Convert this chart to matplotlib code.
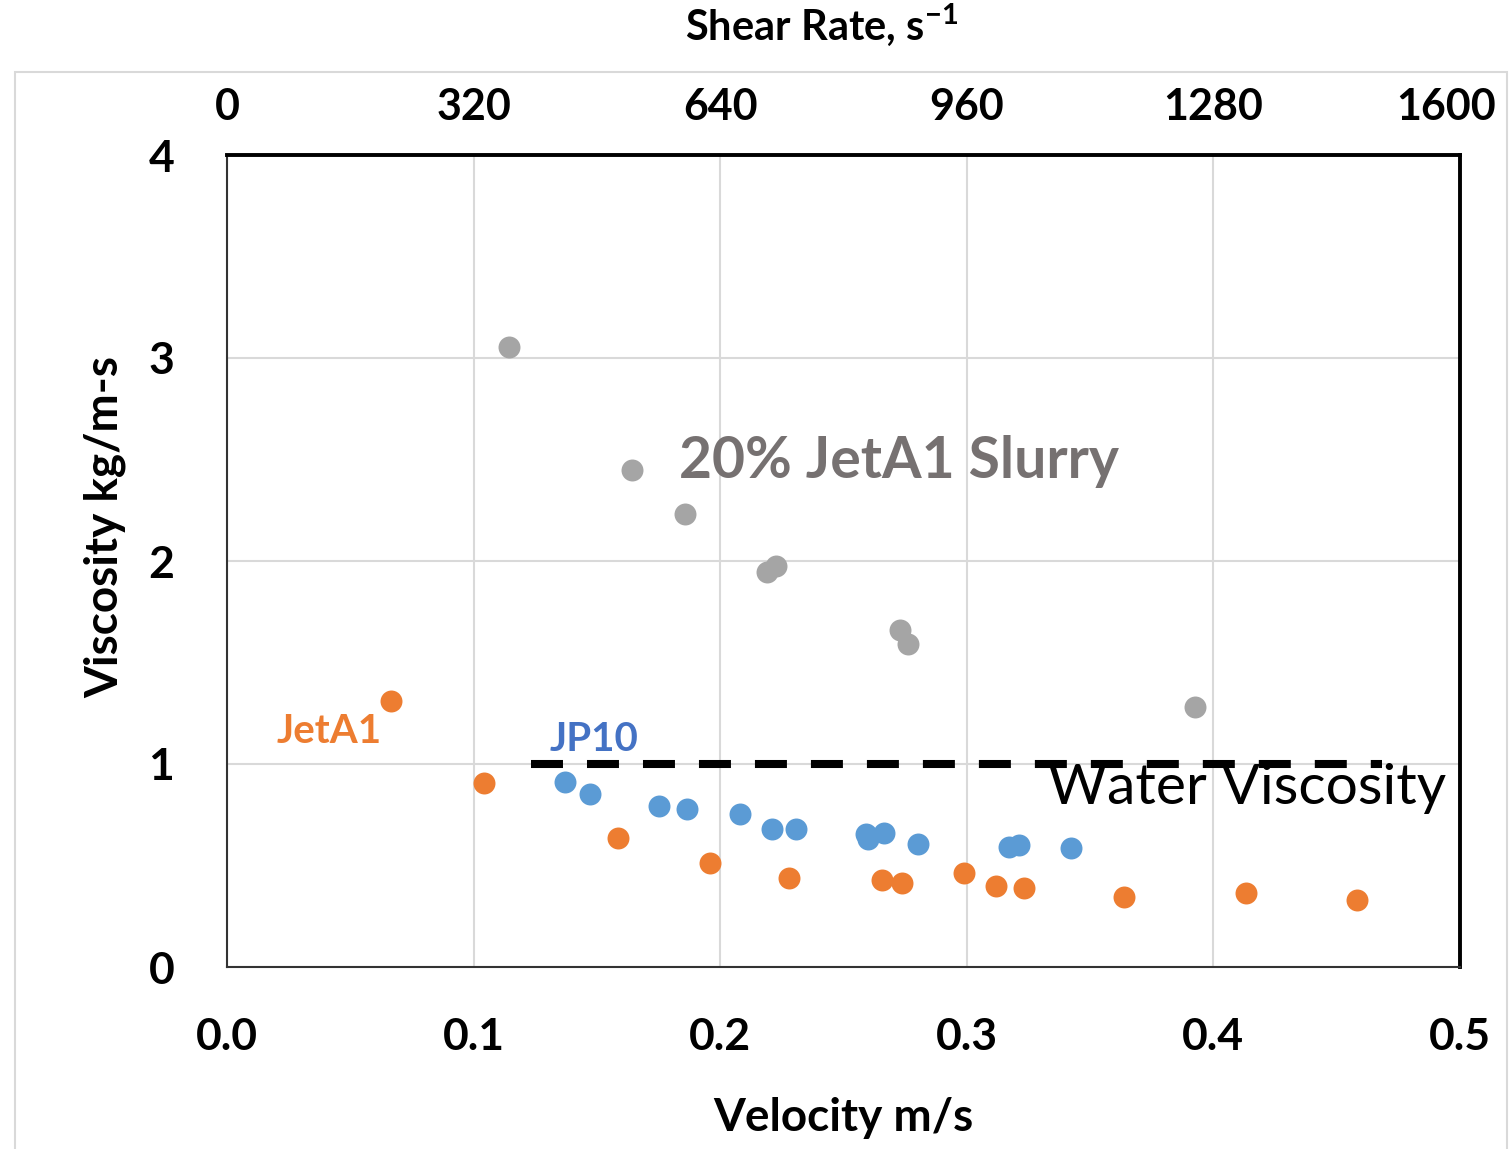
import matplotlib
matplotlib.use("Agg")
import matplotlib.pyplot as plt
from matplotlib.patches import Rectangle
from matplotlib.transforms import offset_copy

plt.rcParams['font.family'] = ['Lato', 'DejaVu Sans']
plt.rcParams['mathtext.fontset'] = 'custom'
plt.rcParams['mathtext.rm'] = 'Lato'
plt.rcParams['mathtext.bf'] = 'Lato:bold'

# velocity (m/s) vs viscosity (kg/m-s)
slurry_x = [0.1144, 0.1642, 0.1857, 0.2190, 0.2226, 0.2729, 0.2762, 0.3925]
slurry_y = [3.054, 2.448, 2.232, 1.946, 1.975, 1.660, 1.591, 1.281]

jp10_x = [0.1371, 0.1472, 0.1752, 0.1865, 0.2080, 0.2210, 0.2307, 0.2591,
          0.2600, 0.2664, 0.2802, 0.3171, 0.3212, 0.3423]
jp10_y = [0.911, 0.852, 0.793, 0.778, 0.754, 0.680, 0.680, 0.655,
          0.631, 0.660, 0.606, 0.591, 0.601, 0.586]

jeta1_x = [0.0665, 0.1042, 0.1586, 0.1959, 0.2279, 0.2656, 0.2737, 0.2989,
           0.3118, 0.3232, 0.3637, 0.4132, 0.4582]
jeta1_y = [1.310, 0.906, 0.635, 0.512, 0.438, 0.429, 0.414, 0.463,
           0.399, 0.389, 0.345, 0.365, 0.330]

water_x = [0.1233, 0.4684]
water_y = [1.0, 1.0]

vel_ticks = [0.0, 0.1, 0.2, 0.3, 0.4, 0.5]
visc_ticks = [0, 1, 2, 3, 4]
shear_ticks = [0, 320, 640, 960, 1280, 1600]

ORANGE = '#ED7D31'
BLUE = '#5B9BD5'
GRAY = '#A5A5A5'

fig = plt.figure(figsize=(15.12, 11.49), dpi=100)
ax = fig.add_axes([227/1512, 1 - 967/1149, (1460-227)/1512, (967-155)/1149])

# outer chart frame
fig.patches.append(Rectangle((15/1512, -0.05), (1507-15)/1512, 1 - 72/1149 + 0.05,
                             transform=fig.transFigure, fill=False,
                             edgecolor='#d9d9d9', lw=1.5))

ax.scatter(slurry_x, slurry_y, s=250, color=GRAY, zorder=3, linewidths=0)
ax.scatter(jp10_x, jp10_y, s=250, color=BLUE, zorder=3, linewidths=0)
ax.scatter(jeta1_x, jeta1_y, s=250, color=ORANGE, zorder=3, linewidths=0)
ax.plot(water_x, water_y, color='black', lw=5.8, linestyle=(0, (3.97, 2.98)),
        dash_capstyle='butt', zorder=2)

ax.set_xlim(0, 0.5)
ax.set_ylim(0, 4)
ax.set_xticks(vel_ticks)
ax.set_xticklabels(['%.1f' % v for v in vel_ticks])
ax.set_yticks(visc_ticks)
ax.grid(True, color='#d9d9d9', lw=1.5, zorder=0)
ax.set_axisbelow(True)
ax.tick_params(length=0, labelsize=32)
ax.tick_params(axis='x', pad=36)
ax.tick_params(axis='y', pad=38)
for lab in ax.get_xticklabels() + ax.get_yticklabels():
    lab.set_fontweight('bold')

for side in ['top', 'right']:
    ax.spines[side].set_linewidth(2.8)
for side in ['left', 'bottom']:
    ax.spines[side].set_linewidth(1.5)
    ax.spines[side].set_color('#333333')

top = ax.secondary_xaxis('top', functions=(lambda v: v * 3200, lambda s: s / 3200))
top.set_xticks(shear_ticks)
top.set_xticklabels([str(s) for s in shear_ticks])
top.tick_params(length=0, labelsize=31, pad=20)
for lab in top.get_xticklabels():
    lab.set_fontweight('bold')
last = top.get_xticklabels()[-1]
last.set_transform(offset_copy(last.get_transform(), fig=fig, x=-14, units='dots'))
top.spines['top'].set_visible(False)

fig.text(843/1512, 1 - 1118/1149, 'Velocity m/s', ha='center', va='center',
         fontsize=33, fontweight='bold')
fig.text(105/1512, 1 - 527/1149, 'Viscosity kg/m-s', ha='center', va='center',
         rotation=90, fontsize=33, fontweight='bold')
fig.text(822/1512, 1 - 25/1149, r'Shear Rate, s$^{\mathbf{-1}}$', ha='center',
         va='center', fontsize=30, fontweight='bold')

ax.text(0.1833, 2.49, '20% JetA1 Slurry', color='#767171', fontsize=41,
        fontweight='bold', va='center', ha='left')
ax.text(0.333, 0.877, 'Water Viscosity', color='black', fontsize=41,
        va='center', ha='left')
ax.text(0.0203, 1.158, 'JetA1', color=ORANGE, fontsize=29, fontweight='bold',
        va='center', ha='left')
ax.text(0.131, 1.123, 'JP10', color='#4472C4', fontsize=29, fontweight='bold',
        va='center', ha='left')

fig.savefig('out.png', dpi=100)
